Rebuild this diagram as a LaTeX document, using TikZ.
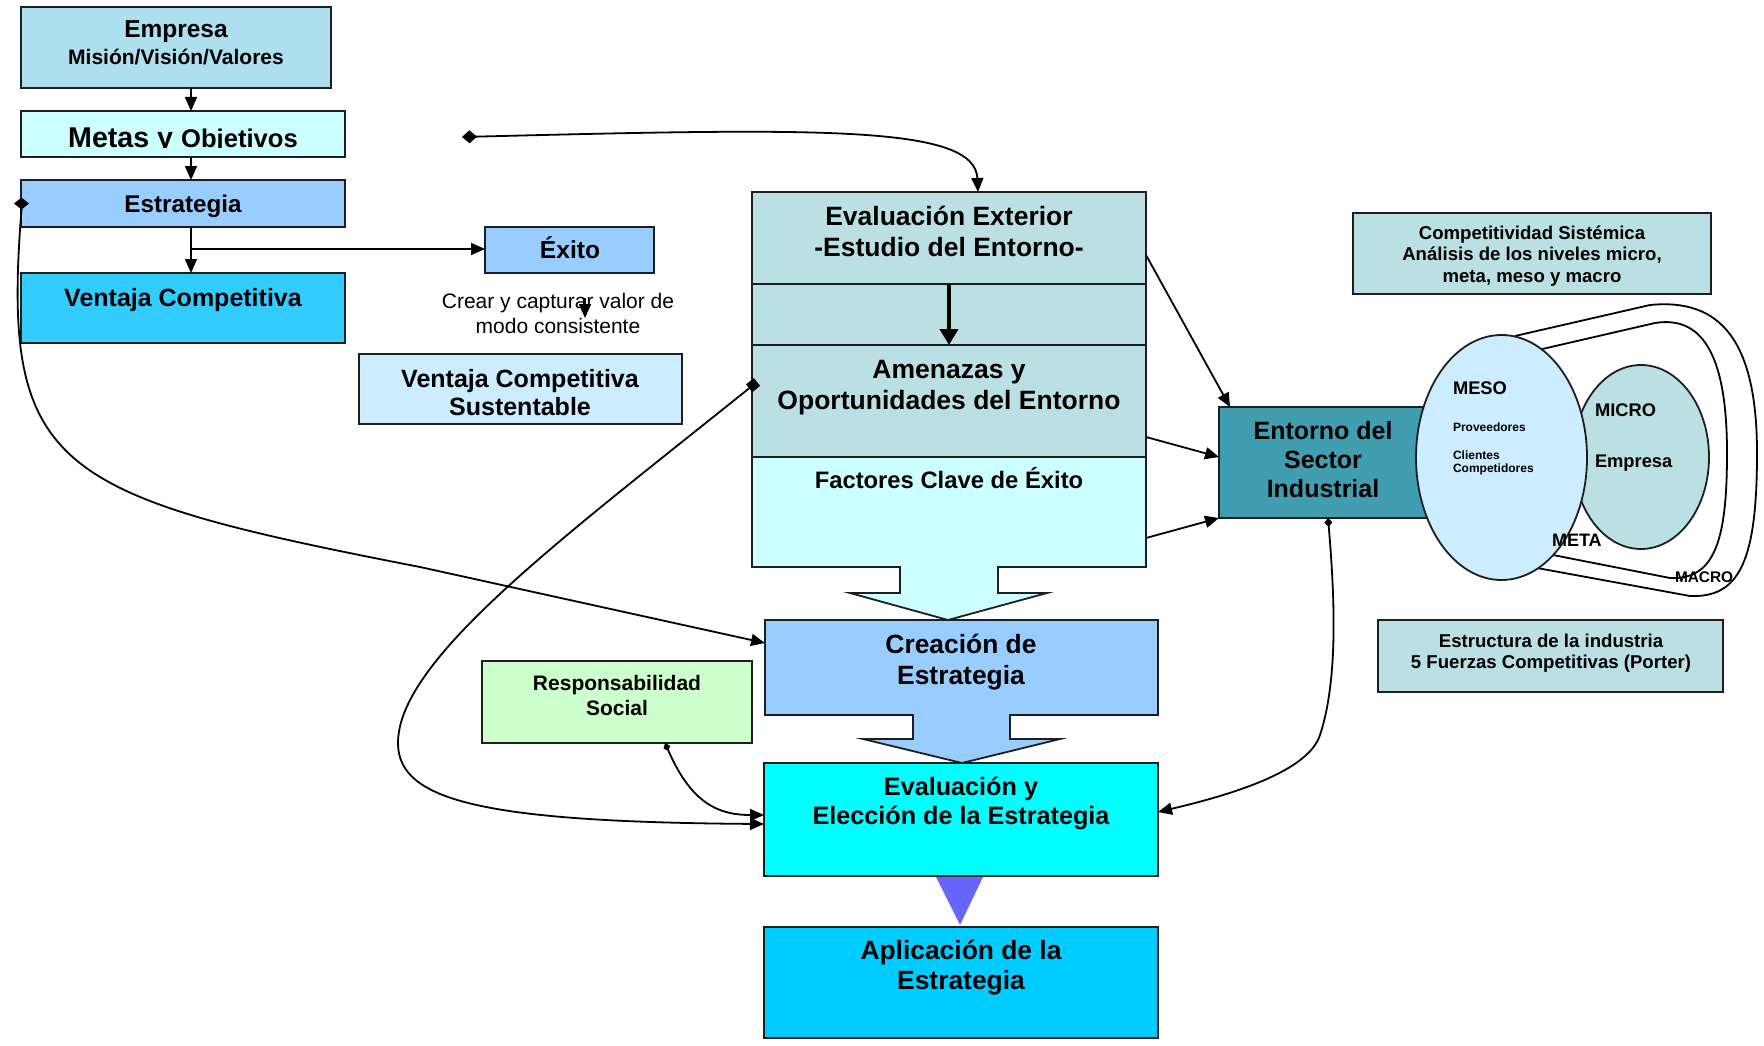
\documentclass[tikz,border=0pt]{standalone}
\usepackage{fontspec}
\setmainfont{Liberation Sans}
\usetikzlibrary{arrows.meta,calc,fit}
\newcommand{\fsz}[1]{\fontsize{#1}{#1}\selectfont}

\definecolor{cEmp}{RGB}{173,223,238}
\definecolor{cPale}{RGB}{204,255,255}
\definecolor{cSky}{RGB}{153,204,255}
\definecolor{cVent}{RGB}{51,204,255}
\definecolor{cVCS}{RGB}{204,236,255}
\definecolor{cTeal}{RGB}{187,224,227}
\definecolor{cResp}{RGB}{204,255,204}
\definecolor{cCyan}{RGB}{0,255,255}
\definecolor{cApl}{RGB}{0,204,255}
\definecolor{cTri}{RGB}{102,102,255}
\definecolor{cEnt}{RGB}{64,158,176}
\definecolor{cEdge}{RGB}{30,30,30}

\begin{document}
\begin{tikzpicture}[x=1pt, y=-1pt, line join=miter,
  box/.style={draw=cEdge, line width=1.8pt, inner sep=0pt, outer sep=0pt},
  zone/.style={inner sep=0pt, outer sep=0pt},
  lbl/.style={anchor=base, inner sep=0pt, outer sep=0pt},
  lblw/.style={anchor=base west, inner sep=0pt, outer sep=0pt},
  head/.style={-{Triangle[length=14pt,width=12pt]}},
  conn/.style={line width=1.8pt, head},
  thin/.style={line width=1.8pt}
]
\useasboundingbox (0,0) rectangle (1764,1046);

% ---------- left column ----------
\node[box, fill=cEmp,  fit={(21,7) (331,88)}]    (emp) {};
\node[box, fill=cPale, fit={(21,111) (345,157)}] (met) {};
\node[box, fill=cSky,  fit={(21,180) (345,227)}] (est) {};
\node[box, fill=cVent, fit={(21,273) (345,343)}] (ven) {};
\node[box, fill=cSky,  fit={(485,227) (654,273)}] (exi) {};
\node[box, fill=cVCS,  fit={(359,354) (682,424)}] (vcs) {};

\node[lbl, font=\bfseries\fsz{24.5}] (tEmp) at (176,38) {Empresa};
\node[lbl, font=\bfseries\fsz{21}]   (tMis) at (176,65) {Misión/Visión/Valores};
\begin{scope}
  \clip (21,111) rectangle (345,148);
  \node[lbl, font=\bfseries] (tMet) at (183,147) {{\fsz{28.6}Metas y }{\fsz{25.6}Objetivos}};
\end{scope}
\node[lbl, font=\bfseries\fsz{24.2}] (tEst) at (183,212) {Estrategia};
\node[lbl, font=\bfseries\fsz{25}]   (tVen) at (183,306) {Ventaja Competitiva};
\node[lbl, font=\bfseries\fsz{24.6}] (tExi) at (570,258) {Éxito};
\node[lbl, font=\fsz{21}] (tCr1) at (558,308) {Crear y capturar valor de};
\node[lbl, font=\fsz{21}] (tCr2) at (558,333) {modo consistente};
\node[lbl, font=\bfseries\fsz{25}] (tVc1) at (520,387) {Ventaja Competitiva};
\node[lbl, font=\bfseries\fsz{25}] (tVc2) at (520,415) {Sustentable};

% spine of the left column
\coordinate (spA) at ($(emp.south west)+(170,0)$);
\coordinate (spB) at ($(met.north west)+(170,0)$);
\coordinate (spC) at ($(met.south west)+(170,0)$);
\coordinate (spD) at ($(est.north west)+(170,0)$);
\coordinate (spE) at ($(est.south west)+(170,0)$);
\coordinate (spF) at ($(ven.north west)+(170,0)$);
\coordinate (spG) at ($(est.south west)+(170,22)$);
\draw[conn] (spA) -- (spB);
\draw[conn] (spC) -- (spD);
\draw[conn] (spE) -- (spF);
\draw[conn] (spG) -- (spG -| exi.west);
\coordinate (crA) at (585,298);
\coordinate (crB) at (585,318);
\draw[conn] (crA) -- (crB);

% ---------- central column ----------
\node[box, fill=cTeal, fit={(752,192) (1146,284)}] (ext) {};
\node[box, fill=cTeal, fit={(752,284) (1146,345)}] (mid) {};
\node[box, fill=cTeal, fit={(752,345) (1146,457)}] (ame) {};
\node[zone, fit={(752,457) (1146,567)}] (fac) {};
\node[zone, fit={(765,620) (1158,715)}] (cre) {};

\draw[box, fill=cPale] (752,457) -- (1146,457) -- (1146,567) -- (998,567) -- (998,593)
  -- (1047,593) -- (948,620) -- (850,593) -- (900,593) -- (900,567) -- (752,567) -- cycle;
\draw[box, fill=cSky] (765,620) -- (1158,620) -- (1158,715) -- (1010,715) -- (1010,739)
  -- (1060,739) -- (962,763) -- (863,739) -- (913,739) -- (913,715) -- (765,715) -- cycle;

\node[box, fill=cResp, fit={(482,661) (752,743)}] (res) {};
\node[box, fill=cCyan, fit={(764,763) (1158,876)}] (eva) {};
\node[box, fill=cApl,  fit={(764,927) (1158,1038)}] (apl) {};
\fill[cTri] (936,877) -- (983,877) -- (960,925) -- cycle;

\draw[line width=4pt, -{Triangle[length=16pt,width=18pt]}] (mid.north) -- (mid.south);

\node[lbl, font=\bfseries\fsz{26.5}] (tEx1) at (949,225) {Evaluación Exterior};
\node[lbl, font=\bfseries\fsz{26.5}] (tEx2) at (949,256) {-Estudio del Entorno-};
\node[lbl, font=\bfseries\fsz{26.5}] (tAm1) at (949,378) {Amenazas y};
\node[lbl, font=\bfseries\fsz{26.5}] (tAm2) at (949,409) {Oportunidades del Entorno};
\node[lbl, font=\bfseries\fsz{23.8}] (tFac) at (949,488) {Factores Clave de Éxito};
\node[lbl, font=\bfseries\fsz{26.4}] (tCe1) at (961,653) {Creación de};
\node[lbl, font=\bfseries\fsz{26.4}] (tCe2) at (961,684) {Estrategia};
\node[lbl, font=\bfseries\fsz{21}]   (tRe1) at (617,690) {Responsabilidad};
\node[lbl, font=\bfseries\fsz{21}]   (tRe2) at (617,715) {Social};
\node[lbl, font=\bfseries\fsz{25.2}] (tEv1) at (961,795) {Evaluación y};
\node[lbl, font=\bfseries\fsz{25.2}] (tEv2) at (961,824) {Elección de la Estrategia};
\node[lbl, font=\bfseries\fsz{26.4}] (tAp1) at (961,959) {Aplicación de la};
\node[lbl, font=\bfseries\fsz{26.4}] (tAp2) at (961,989) {Estrategia};

% ---------- right side ----------
\node[box, fill=cTeal, fit={(1353,213) (1711,294)}] (com) {};
\node[lbl, font=\bfseries\fsz{18.6}] (tCo1) at (1532,239) {Competitividad Sistémica};
\node[lbl, font=\bfseries\fsz{18.6}] (tCo2) at (1532,260) {Análisis de los niveles micro,};
\node[lbl, font=\bfseries\fsz{18.6}] (tCo3) at (1532,282) {meta, meso y macro};

\node[box, fill=cTeal, fit={(1378,620) (1723,692)}] (pst) {};
\node[lbl, font=\bfseries\fsz{18.6}] (tPo1) at (1551,647) {Estructura de la industria};
\node[lbl, font=\bfseries\fsz{18.6}] (tPo2) at (1551,668) {5 Fuerzas Competitivas (Porter)};

\node[box, fill=cEnt, fit={(1219,407) (1430,518)}] (ent) {};
\node[lbl, font=\bfseries\fsz{25}] (tEn1) at (1323,439) {Entorno del};
\node[lbl, font=\bfseries\fsz{25}] (tEn2) at (1323,468) {Sector};
\node[lbl, font=\bfseries\fsz{25}] (tEn3) at (1323,497) {Industrial};

% nested levels
\draw[thin] (1515,336) -- (1650,305) .. controls (1720,298) and (1757,340) .. (1757,453)
  .. controls (1757,560) and (1740,598) .. (1690,596) -- (1537,568);
\draw[thin] (1538,350) -- (1655,323) .. controls (1705,315) and (1727,360) .. (1727,453)
  .. controls (1727,540) and (1715,580) .. (1670,578) -- (1553,555);
\draw[thin, draw=cEdge, fill=cTeal] (1641,457) ellipse [x radius=68pt, y radius=92pt];
\draw[thin, draw=cEdge, fill=cVCS] (1501.5,457.5) ellipse [x radius=85.5pt, y radius=122.5pt];

\node[lblw, font=\bfseries\fsz{18.3}] (tMes) at (1453,394) {MESO};
\node[lblw, font=\bfseries\fsz{12}]   (tPro) at (1453,431) {Proveedores};
\node[lblw, font=\bfseries\fsz{12}]   (tCli) at (1453,459) {Clientes};
\node[lblw, font=\bfseries\fsz{12}]   (tCmp) at (1453,472) {Competidores};
\node[lblw, font=\bfseries\fsz{18.3}] (tMic) at (1595,416) {MICRO};
\node[lblw, font=\bfseries\fsz{18.3}] (tEmq) at (1595,467) {Empresa};
\node[lblw, font=\bfseries\fsz{18}]   (tMet2) at (1552,546) {META};
\node[lblw, font=\bfseries\fsz{15.4}] (tMac) at (1675,582) {MACRO};

% ---------- connectors ----------
\coordinate (dsrc) at (462,137);
\draw[line width=1.8pt, {Diamond[length=15pt,width=13pt]}-{Triangle[length=14pt,width=12pt]}]
  (dsrc) .. controls (820,128) and (975,125) .. ($(ext.north west)+(226,0)$);

\draw[line width=1.8pt, {Diamond[length=15pt,width=12pt]}-{Triangle[length=14pt,width=12pt]}]
  ($(est.west)+(-7,0)$) -- ($(est.west)+(1,0)$) .. controls (0,470) and (50,495) .. (420,567)
  -- ($(cre.north west)+(0,23)$);

\draw[line width=1.8pt, {Square[length=10pt,width=10pt]}-{Triangle[length=14pt,width=12pt]}]
  ($(ame.north west)+(5,37)$) .. controls (560,540) and (398,660) .. (398,743)
  .. controls (398,800) and (480,822) .. ($(eva.north west)+(0,61)$);

\draw[line width=1.8pt, {Diamond[length=9pt,width=7pt]}-{Triangle[length=14pt,width=12pt]}]
  ($(res.south west)+(183,0)$) .. controls (690,800) and (715,815) .. ($(eva.north west)+(0,52)$);

\draw[line width=1.8pt, {Diamond[length=9pt,width=8pt]}-{Triangle[length=14pt,width=12pt]}]
  ($(ent.south west)+(109,0)$) .. controls (1335,600) and (1338,680) .. (1320,735)
  .. controls (1308,772) and (1230,795) .. ($(eva.north east)+(0,49)$);

\draw[conn] ($(ext.north east)+(0,63)$) -- ($(ent.north west)+(11,0)$);
\draw[conn] ($(ame.north east)+(0,92)$) -- ($(ent.north west)+(0,50)$);
\draw[conn] ($(fac.north east)+(0,81)$) -- (ent.south west);
\end{tikzpicture}
\end{document}
